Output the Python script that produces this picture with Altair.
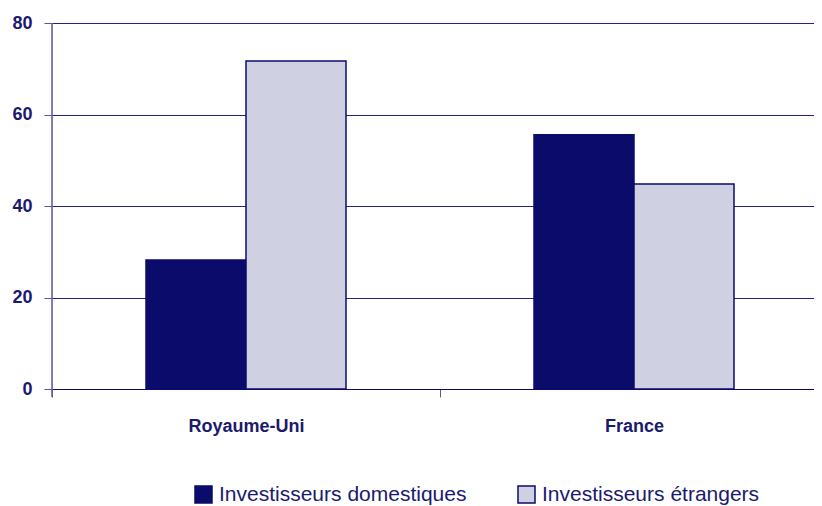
import altair as alt
import pandas as pd

countries = ["Royaume-Uni", "France"]
series = ["Investisseurs domestiques", "Investisseurs étrangers"]
domestic = [28.2, 55.6]
foreign = [71.7, 44.8]

rows = []
for i, c in enumerate(countries):
    rows.append({"pays": c, "type": series[0], "valeur": domestic[i]})
    rows.append({"pays": c, "type": series[1], "valeur": foreign[i]})
df = pd.DataFrame(rows)

NAVY = "#0b0b6b"
LIGHT = "#d0d0e3"
TXT = "#1a1a6e"

chart = alt.Chart(df).mark_bar(stroke=NAVY, strokeWidth=1.5).encode(
    x=alt.X("pays:N", sort=countries, title=None,
            scale=alt.Scale(paddingInner=0, paddingOuter=0, range=[0, 776]),
            axis=alt.Axis(labelAngle=0, tickBand="extent", tickSize=8, labelPadding=20,
                          labelFont="Liberation Sans", labelFontSize=18, labelFontWeight="bold",
                          labelColor=TXT, domainColor=NAVY, tickColor="#5a5a9e", grid=False)),
    xOffset=alt.XOffset("type:N", sort=series,
                        scale=alt.Scale(paddingInner=0, paddingOuter=0.94)),
    y=alt.Y("valeur:Q", title=None,
            scale=alt.Scale(domain=[0, 80], nice=False),
            axis=alt.Axis(values=[0, 20, 40, 60, 80], tickSize=8, labelPadding=12,
                          labelFont="Liberation Sans", labelFontSize=18, labelFontWeight="bold",
                          labelColor=TXT, domain=False, tickColor="#5a5a9e",
                          gridColor="#22227f", gridWidth=1)),
    color=alt.Color("type:N", sort=series, title=None,
                    scale=alt.Scale(domain=series, range=[NAVY, LIGHT]),
                    legend=alt.Legend(orient="none", legendX=141, legendY=461,
                                      direction="horizontal", columns=2, columnPadding=48,
                                      symbolType="square", symbolSize=289,
                                      symbolStrokeColor=NAVY, symbolStrokeWidth=1.5,
                                      symbolOpacity=1, labelOffset=5, padding=0,
                                      labelFont="Liberation Sans", labelFontSize=21,
                                      labelColor=TXT, labelLimit=400)),
)

yline = alt.Chart(pd.DataFrame({"a": [0]})).mark_rule(color="#5a5a9e", strokeWidth=1.5).encode(
    x=alt.value(0), y=alt.value(0), y2=alt.value(374)
)

final = alt.layer(chart, yline).properties(
    width=762, height=366,
    autosize=alt.AutoSizeParams(type="none"),
    padding={"left": 44, "top": 15, "right": 0, "bottom": 117},
).configure_view(stroke=None).configure(background="white")

final.save("out.html", embed_options={"renderer": "svg", "actions": False})
